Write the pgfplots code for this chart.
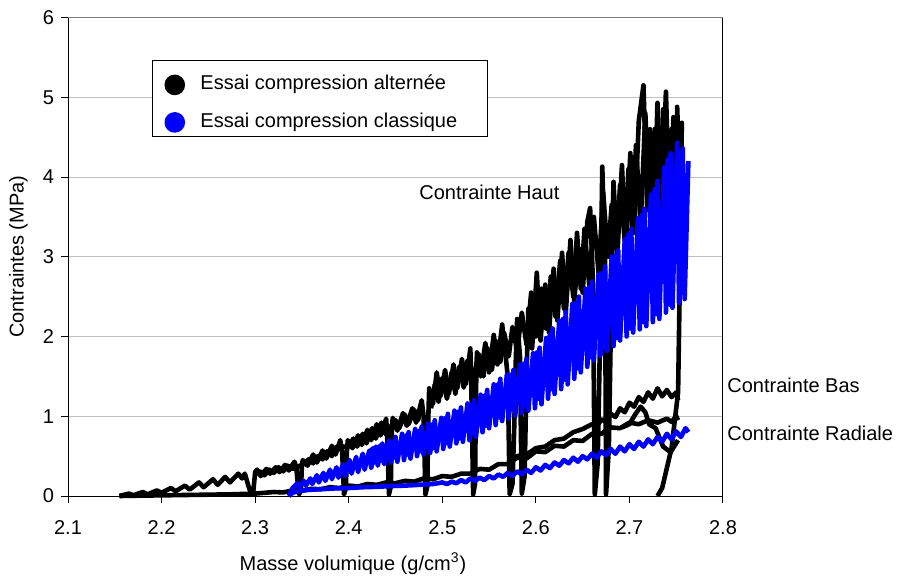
\documentclass[border=0pt]{standalone}
\usepackage{pgfplots}
\pgfplotsset{compat=1.18}
\usepackage{fontspec}
\setmainfont{Liberation Sans}
\definecolor{gridgray}{RGB}{192,192,192}
\definecolor{topgray}{RGB}{128,128,128}
\begin{document}
\fontsize{10}{12}\selectfont
\begin{tikzpicture}
\path[use as bounding box] (-34pt,-41pt) rectangle (415.5pt,248pt);
\begin{axis}[
  at={(0,0)}, anchor=south west,
  scale only axis, width=327.5pt, height=239.25pt,
  xmin=2.1, xmax=2.8, ymin=0, ymax=6,
  axis lines*=left, axis line style={line width=0.5pt,-},
  tick align=outside, major tick length=3.5pt,
  tick style={black, line width=0.5pt},
  xtick={2.1,2.2,2.3,2.4,2.5,2.6,2.7,2.8},
  xticklabels={2.1,2.2,2.3,2.4,2.5,2.6,2.7,2.8},
  ytick={0,1,2,3,4,5,6},
  ymajorgrids, grid style={line width=0.5pt, color=gridgray},
  clip=false,
  /pgf/number format/assume math mode=true,
  tick label style={font=\fontsize{10}{12}\selectfont},
  xticklabel style={yshift=-5pt},
  xlabel={Masse volumique (g/cm\textsuperscript{3})},
  ylabel={Contraintes (MPa)},
  label style={font=\fontsize{10}{12}\selectfont},
  xlabel style={at={(axis description cs:0.435,-0.1547)}, anchor=base},
  ylabel style={at={(axis description cs:-0.0756,0.5)}, anchor=center},
  legend cell align=left,
  legend style={at={(axis description cs:0.1282,0.9112)}, anchor=north west,
    draw=black, line width=0.5pt, fill=white, inner xsep=6pt, inner ysep=1.8pt,
    nodes={inner sep=0pt, text depth=2.1pt}, row sep=8.45pt, column sep=7.7pt,
    font=\fontsize{10}{12}\selectfont},
  every axis plot/.append style={line width=2.3pt, line join=round},
]
% Essai compression alternee - contrainte haut
\addplot[black, legend image code/.code={\fill[black] (4pt,-2.9pt) circle (4pt);}] coordinates {
(2.155,0) (2.165,0.03) (2.170,0.01) (2.180,0.05) (2.185,0.02) (2.195,0.07) (2.200,0.04) (2.210,0.10) (2.215,0.06) (2.225,0.13) (2.230,0.08) (2.240,0.17) (2.245,0.11) (2.255,0.21) (2.260,0.14) (2.268,0.24) (2.273,0.17) (2.282,0.28) (2.286,0.22) (2.289,0.28) (2.293,0.12) (2.296,0.02) (2.298,0.05) (2.300,0.30) (2.302,0.33) (2.306,0.25) (2.312,0.34) (2.316,0.28) (2.322,0.36) (2.326,0.30) (2.332,0.39) (2.336,0.32) (2.342,0.43) (2.344,0.36) (2.346,0.10) (2.347,0.02) (2.349,0.08) (2.350,0.40) (2.351,0.45) (2.356,0.38) (2.362,0.52) (2.366,0.42) (2.372,0.57) (2.376,0.47) (2.382,0.63) (2.386,0.52) (2.391,0.70) (2.393,0.55) (2.395,0.02) (2.397,0.10) (2.398,0.55) (2.399,0.70) (2.404,0.60) (2.410,0.76) (2.414,0.64) (2.420,0.83) (2.424,0.70) (2.430,0.90) (2.434,0.76) (2.440,0.97) (2.441,0.80) (2.443,0.02) (2.445,0.12) (2.446,0.80) (2.447,0.98) (2.452,0.82) (2.458,1.04) (2.462,0.88) (2.468,1.10) (2.472,0.92) (2.478,1.20) (2.480,1.00) (2.482,0.02) (2.484,0.12) (2.485,0.95) (2.486,1.35) (2.490,1.15) (2.494,1.55) (2.498,1.25) (2.503,1.58) (2.507,1.28) (2.512,1.65) (2.516,1.35) (2.521,1.72) (2.525,1.40) (2.530,1.85) (2.531,1.40) (2.533,0.02) (2.535,0.15) (2.536,1.30) (2.537,1.80) (2.541,1.50) (2.546,1.92) (2.550,1.55) (2.555,2.02) (2.559,1.65) (2.564,2.15) (2.568,1.72) (2.570,1.50) (2.572,0.02) (2.575,0.15) (2.577,0.90) (2.578,1.50) (2.580,2.22) (2.583,1.75) (2.584,0.80) (2.585,0.03) (2.588,0.25) (2.590,1.50) (2.592,2.35) (2.596,1.85) (2.601,2.80) (2.605,1.95) (2.610,2.65) (2.614,2.05) (2.619,2.85) (2.623,2.20) (2.628,3.05) (2.632,2.30) (2.637,3.21) (2.641,2.45) (2.646,3.10) (2.650,2.55) (2.655,3.44) (2.658,3.61) (2.661,2.70) (2.663,0.02) (2.666,0.40) (2.668,1.60) (2.669,2.50) (2.671,4.13) (2.674,2.90) (2.675,0.02) (2.678,0.60) (2.680,2.00) (2.681,3.00) (2.683,3.94) (2.687,3.00) (2.692,4.15) (2.696,3.10) (2.701,4.30) (2.705,3.30) (2.710,4.70) (2.715,5.15) (2.719,3.59) (2.722,4.60) (2.725,3.00) (2.730,4.93) (2.734,3.40) (2.739,5.07) (2.743,3.50) (2.747,4.75) (2.750,3.80) (2.751,4.88) (2.754,3.90) (2.756,4.68) (2.754,2.80) (2.752,1.30) (2.745,0.60) (2.735,0.10) (2.730,0)
};
\addlegendentry{\rule{0pt}{12.9pt}Essai compression altern\'ee}
% second upper sawtooth
\addplot[black, forget plot] coordinates {
(2.300,0.27) (2.305,0.31) (2.310,0.26) (2.315,0.33) (2.320,0.29) (2.325,0.36) (2.330,0.31) (2.335,0.38) (2.340,0.34) (2.352,0.40) (2.357,0.46) (2.362,0.41) (2.367,0.50) (2.372,0.46) (2.377,0.56) (2.382,0.50) (2.387,0.62) (2.400,0.62) (2.405,0.72) (2.409,0.62) (2.415,0.78) (2.419,0.66) (2.425,0.85) (2.429,0.72) (2.435,0.92) (2.439,0.78) (2.450,0.95) (2.454,0.85) (2.460,1.02) (2.464,0.90) (2.470,1.08) (2.474,0.95) (2.478,1.12)
};
\addplot[black, forget plot] coordinates {
(2.488,1.10) (2.492,1.40) (2.496,1.18) (2.500,1.48) (2.505,1.22) (2.510,1.55) (2.514,1.28) (2.518,1.62) (2.523,1.36) (2.527,1.70) (2.532,1.42) (2.539,1.78) (2.544,1.50) (2.548,1.86) (2.553,1.58) (2.557,1.95) (2.562,1.68) (2.566,2.05) (2.571,1.75) (2.575,2.12) (2.580,1.82) (2.585,2.30) (2.590,1.90) (2.595,2.55) (2.600,2.00) (2.606,2.60) (2.611,2.10) (2.616,2.75) (2.621,2.25) (2.626,2.95) (2.630,2.35) (2.635,3.05) (2.640,2.50) (2.644,3.30) (2.648,2.60) (2.652,3.35) (2.657,2.65) (2.662,3.50) (2.667,2.80) (2.672,3.80) (2.677,3.00) (2.681,3.65) (2.686,3.10) (2.690,3.90) (2.695,3.20) (2.699,4.10) (2.703,3.30) (2.707,4.40) (2.712,3.40) (2.717,4.80) (2.722,3.50) (2.727,4.60) (2.731,3.20) (2.736,4.85) (2.740,3.60) (2.745,4.60) (2.749,3.70) (2.752,4.40)
};
% alternee - contrainte radiale
\addplot[black, forget plot] coordinates {
(2.155,0) (2.18,0.005) (2.21,0.01) (2.24,0.015) (2.27,0.02) (2.30,0.03) (2.32,0.05) (2.33,0.045) (2.34,0.07) (2.35,0.065) (2.36,0.09) (2.37,0.085) (2.38,0.11) (2.39,0.10) (2.40,0.13) (2.41,0.12) (2.42,0.15) (2.43,0.14) (2.44,0.17) (2.45,0.16) (2.46,0.19) (2.47,0.18) (2.48,0.22) (2.49,0.21) (2.50,0.25) (2.51,0.24) (2.52,0.28) (2.53,0.28) (2.54,0.34) (2.55,0.33) (2.56,0.40) (2.57,0.40) (2.58,0.48) (2.59,0.47) (2.60,0.56) (2.61,0.55) (2.62,0.63) (2.63,0.62) (2.64,0.70) (2.65,0.69) (2.66,0.78) (2.67,0.78) (2.68,0.86) (2.69,0.85) (2.70,0.92) (2.71,0.90) (2.72,0.95) (2.73,0.92) (2.74,0.97) (2.745,0.93) (2.75,1.00) (2.752,0.95)
};
% alternee - contrainte bas
\addplot[black, forget plot] coordinates {
(2.57,0.42) (2.58,0.50) (2.59,0.52) (2.60,0.60) (2.61,0.62) (2.62,0.70) (2.63,0.72) (2.64,0.80) (2.65,0.84) (2.66,0.90) (2.665,0.87) (2.67,0.96) (2.675,0.93) (2.68,1.03) (2.685,0.99) (2.69,1.10) (2.695,1.05) (2.70,1.17) (2.705,1.12) (2.71,1.24) (2.715,1.18) (2.72,1.30) (2.725,1.22) (2.73,1.35) (2.735,1.25) (2.74,1.33) (2.745,1.24) (2.75,1.30) (2.752,1.20)
};
\addplot[black, forget plot] coordinates {
(2.692,0.86) (2.700,0.90) (2.706,1.02) (2.712,1.12) (2.717,1.05) (2.721,0.90) (2.728,0.85) (2.736,0.62) (2.744,0.55) (2.752,0.70)
};
% Essai compression classique - contrainte haut
\addplot[blue, legend image code/.code={\fill[blue] (4pt,0pt) circle (4pt);}] coordinates {
(2.336,0.00) (2.340,0.10) (2.345,0.16) (2.347,0.11) (2.352,0.19) (2.354,0.13) (2.359,0.22) (2.361,0.15) (2.366,0.26) (2.368,0.17) (2.373,0.29) (2.375,0.19) (2.380,0.33) (2.382,0.21) (2.387,0.36) (2.389,0.23) (2.394,0.40) (2.396,0.25) (2.401,0.45) (2.403,0.28) (2.408,0.49) (2.410,0.30) (2.415,0.53) (2.417,0.33) (2.422,0.57) (2.424,0.35) (2.429,0.62) (2.431,0.38) (2.436,0.66) (2.438,0.40) (2.443,0.70) (2.445,0.42) (2.450,0.74) (2.452,0.43) (2.457,0.78) (2.459,0.45) (2.464,0.80) (2.466,0.47) (2.471,0.84) (2.473,0.50) (2.478,0.87) (2.480,0.52) (2.485,0.91) (2.487,0.54) (2.492,0.95) (2.494,0.56) (2.499,0.98) (2.501,0.59) (2.506,1.03) (2.508,0.62) (2.513,1.07) (2.515,0.66) (2.520,1.11) (2.522,0.68) (2.527,1.16) (2.529,0.70) (2.534,1.20) (2.536,0.74) (2.541,1.27) (2.543,0.80) (2.548,1.33) (2.550,0.85) (2.555,1.40) (2.557,0.89) (2.562,1.47) (2.564,0.94) (2.569,1.52) (2.571,0.97) (2.576,1.58) (2.578,1.01) (2.583,1.65) (2.585,1.04) (2.590,1.72) (2.592,1.07) (2.597,1.79) (2.599,1.10) (2.604,1.86) (2.606,1.15) (2.611,1.98) (2.613,1.22) (2.618,2.10) (2.620,1.28) (2.625,2.20) (2.627,1.34) (2.632,2.31) (2.634,1.40) (2.639,2.41) (2.641,1.47) (2.646,2.50) (2.648,1.55) (2.653,2.60) (2.655,1.62) (2.660,2.69) (2.662,1.70) (2.667,2.78) (2.669,1.76) (2.674,2.88) (2.676,1.82) (2.681,3.00) (2.683,1.88) (2.688,3.08) (2.690,1.95) (2.695,3.22) (2.697,2.00) (2.702,3.35) (2.704,2.05) (2.709,3.48) (2.711,2.09) (2.716,3.60) (2.718,2.13) (2.723,3.78) (2.725,2.18) (2.730,3.95) (2.732,2.22) (2.737,4.12) (2.739,2.30) (2.744,4.30) (2.746,2.36) (2.751,4.43) (2.753,2.42) (2.757,4.36) (2.759,2.47) (2.763,4.20)
};
\addlegendentry{Essai compression classique\hspace*{9pt}}
% second classique sawtooth (denser pattern)
\addplot[blue, forget plot] coordinates {
(2.420,0.50) (2.426,0.60) (2.428,0.42) (2.433,0.63) (2.435,0.44) (2.447,0.68) (2.449,0.48) (2.461,0.76) (2.463,0.52) (2.475,0.82) (2.477,0.56) (2.489,0.90) (2.491,0.60) (2.503,0.98) (2.505,0.66) (2.517,1.06) (2.519,0.72) (2.531,1.15) (2.533,0.78) (2.545,1.26) (2.547,0.88) (2.559,1.40) (2.561,0.98) (2.573,1.52) (2.575,1.08) (2.587,1.66) (2.589,1.14) (2.601,1.80) (2.603,1.22) (2.615,2.02) (2.617,1.34) (2.629,2.22) (2.631,1.46) (2.643,2.42) (2.645,1.60) (2.657,2.62) (2.659,1.74) (2.671,2.80) (2.673,1.86) (2.685,3.02) (2.687,1.98) (2.699,3.28) (2.701,2.10) (2.713,3.52) (2.715,2.18) (2.727,3.85) (2.729,2.28) (2.741,4.22) (2.743,2.40) (2.755,4.30) (2.757,2.55) (2.761,4.00)
};
% classique - contrainte basse
\addplot[blue, forget plot] coordinates {
(2.336,0.00) (2.340,0.04) (2.346,0.06) (2.355,0.075) (2.37,0.085) (2.385,0.095) (2.40,0.10) (2.415,0.11) (2.43,0.115) (2.445,0.125) (2.46,0.13) (2.475,0.14) (2.49,0.15) (2.50,0.17) (2.505,0.15) (2.51,0.18) (2.515,0.16) (2.52,0.20) (2.525,0.17) (2.53,0.22) (2.535,0.19) (2.54,0.23) (2.545,0.20) (2.55,0.25) (2.555,0.22) (2.56,0.27) (2.565,0.24) (2.57,0.29) (2.575,0.25) (2.58,0.31) (2.585,0.27) (2.59,0.33) (2.595,0.29) (2.60,0.36) (2.605,0.32) (2.61,0.39) (2.615,0.35) (2.62,0.42) (2.625,0.38) (2.63,0.45) (2.635,0.41) (2.64,0.48) (2.645,0.43) (2.65,0.50) (2.655,0.46) (2.66,0.53) (2.665,0.48) (2.67,0.56) (2.675,0.51) (2.68,0.59) (2.685,0.53) (2.69,0.62) (2.695,0.56) (2.70,0.65) (2.705,0.59) (2.71,0.68) (2.715,0.62) (2.72,0.71) (2.725,0.65) (2.73,0.74) (2.735,0.68) (2.74,0.78) (2.745,0.71) (2.75,0.81) (2.755,0.74) (2.76,0.85) (2.763,0.80)
};
\draw[topgray, line width=0.5pt] (rel axis cs:0,1) -- (rel axis cs:1,1);
\draw[black, line width=0.5pt] (rel axis cs:1,0) -- (rel axis cs:1,1);
\node[anchor=base west, inner sep=0pt] at (axis cs:2.4751,3.712) {Contrainte Haut};
\node[anchor=base west, inner sep=0pt] at (axis cs:2.8043,1.304) {Contrainte Bas};
\node[anchor=base west, inner sep=0pt] at (axis cs:2.8043,0.690) {Contrainte Radiale};
\end{axis}
\end{tikzpicture}
\end{document}
